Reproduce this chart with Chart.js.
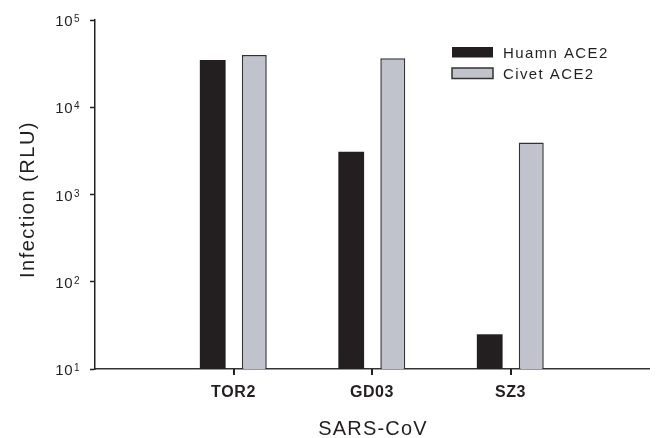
<!DOCTYPE html>
<html>
<head>
<meta charset="utf-8">
<script src="https://cdn.jsdelivr.net/npm/chart.js@4.4.1/dist/chart.umd.min.js"></script>
<style>
html,body{margin:0;padding:0;background:#fff;}
#wrap{width:658px;height:438px;}
</style>
</head>
<body>
<div id="wrap"><canvas id="c" width="658" height="438"></canvas></div>
<script>
// ---- data ----
const categories = ['', 'TOR2', 'GD03', 'SZ3', ''];
const humanACE2 = [null, 34800, 3100, 25, null];
const civetACE2 = [null, 39700, 36400, 3950, null];
const seriesNames = ['Huamn ACE2', 'Civet ACE2'];
const yTickValues = [10, 100, 1000, 10000, 100000];
const xTitle = 'SARS-CoV';
const yTitle = 'Infection (RLU)';

const TEXT = '#231f20';
const FONT = '"Liberation Sans", Arial, Helvetica, sans-serif';

const customText = {
  id: 'customText',
  beforeDraw(chart) {
    chart.ctx.letterSpacing = '0.6px';
  },
  afterDraw(chart) {
    const ctx = chart.ctx;
    const y = chart.scales.y;
    const x = chart.scales.x;
    ctx.save();
    // x category tick marks (only under named categories)
    ctx.fillStyle = '#222222';
    categories.forEach((c, i) => {
      if (!c) return;
      const px = Math.round(x.getPixelForValue(i));
      ctx.fillRect(px - 1, x.top, 2, 6);
    });
    ctx.fillStyle = TEXT;
    // y tick labels 10^n
    y.ticks.forEach(t => {
      const py = y.getPixelForValue(t.value);
      const exp = Math.round(Math.log10(t.value));
      ctx.letterSpacing = '0.5px';
      ctx.font = '15px ' + FONT;
      ctx.textAlign = 'right';
      ctx.textBaseline = 'alphabetic';
      ctx.fillText('10', y.right - 22, py + 6);
      ctx.font = '10px ' + FONT;
      ctx.textAlign = 'left';
      ctx.fillText(String(exp), y.right - 21, py + 2);
    });
    // y title
    ctx.save();
    ctx.letterSpacing = '1.5px';
    ctx.font = '20px ' + FONT;
    ctx.translate(34, (y.top + y.bottom) / 2 + 5);
    ctx.rotate(-Math.PI / 2);
    ctx.textAlign = 'center';
    ctx.textBaseline = 'alphabetic';
    ctx.fillText(yTitle, 0, 0);
    ctx.restore();
    // x title
    ctx.letterSpacing = '1.2px';
    ctx.font = '20px ' + FONT;
    ctx.textAlign = 'center';
    ctx.textBaseline = 'alphabetic';
    ctx.fillText(xTitle, (x.getPixelForValue(2)) + 1, 435);
    // legend
    const ds = chart.data.datasets;
    ds.forEach((d, i) => {
      const top = 47 + i * 21;
      ctx.fillStyle = d.backgroundColor;
      ctx.fillRect(452, top, 41, 10.5);
      if (d.borderWidth) {
        ctx.strokeStyle = d.borderColor;
        ctx.lineWidth = 1.5;
        ctx.strokeRect(452, top, 41, 10.5);
      }
      ctx.fillStyle = TEXT;
      ctx.letterSpacing = '1.4px';
      ctx.font = '15px ' + FONT;
      ctx.textAlign = 'left';
      ctx.fillText(d.label, 503, top + 11);
    });
    ctx.restore();
  }
};

new Chart(document.getElementById('c'), {
  type: 'bar',
  data: {
    labels: categories,
    datasets: [
      { label: seriesNames[0], data: humanACE2, backgroundColor: '#231f20', borderWidth: 0,
        categoryPercentage: 0.6, barPercentage: 0.62 },
      { label: seriesNames[1], data: civetACE2, backgroundColor: '#c0c3cb', borderColor: '#333333', borderWidth: 1.5,
        borderSkipped: 'bottom', categoryPercentage: 0.6, barPercentage: 0.6 }
    ]
  },
  options: {
    responsive: false,
    animation: false,
    devicePixelRatio: 1,
    layout: { padding: { top: 20, right: 6, left: 0, bottom: 0 } },
    plugins: { legend: { display: false }, tooltip: { enabled: false } },
    scales: {
      x: {
        type: 'category',
        offset: false,
        grid: {
          offset: false,
          display: true,
          drawOnChartArea: false,
          drawTicks: true,
          tickLength: 5,
          tickColor: 'rgba(0,0,0,0)'
        },
        border: { display: true, color: '#333333', width: 1.5 },
        ticks: {
          autoSkip: false,
          maxRotation: 0,
          padding: 9,
          color: TEXT,
          font: { family: FONT, size: 16, weight: 'bold' }
        },
        afterFit(scale) { scale.height = 69; }
      },
      y: {
        type: 'logarithmic',
        min: 10,
        max: 100000,
        grid: { drawOnChartArea: false, drawTicks: true, tickLength: 5, tickWidth: 1.5, tickColor: '#222222' },
        border: { display: true, color: '#222222', width: 1.5 },
        ticks: {
          color: 'rgba(0,0,0,0)',
          font: { family: FONT, size: 15 },
          callback: v => '10^' + Math.round(Math.log10(v))
        },
        afterBuildTicks(scale) {
          scale.ticks = yTickValues.map(v => ({ value: v }));
        },
        afterFit(scale) { scale.width = 95; }
      }
    }
  },
  plugins: [customText]
});
</script>
</body>
</html>
